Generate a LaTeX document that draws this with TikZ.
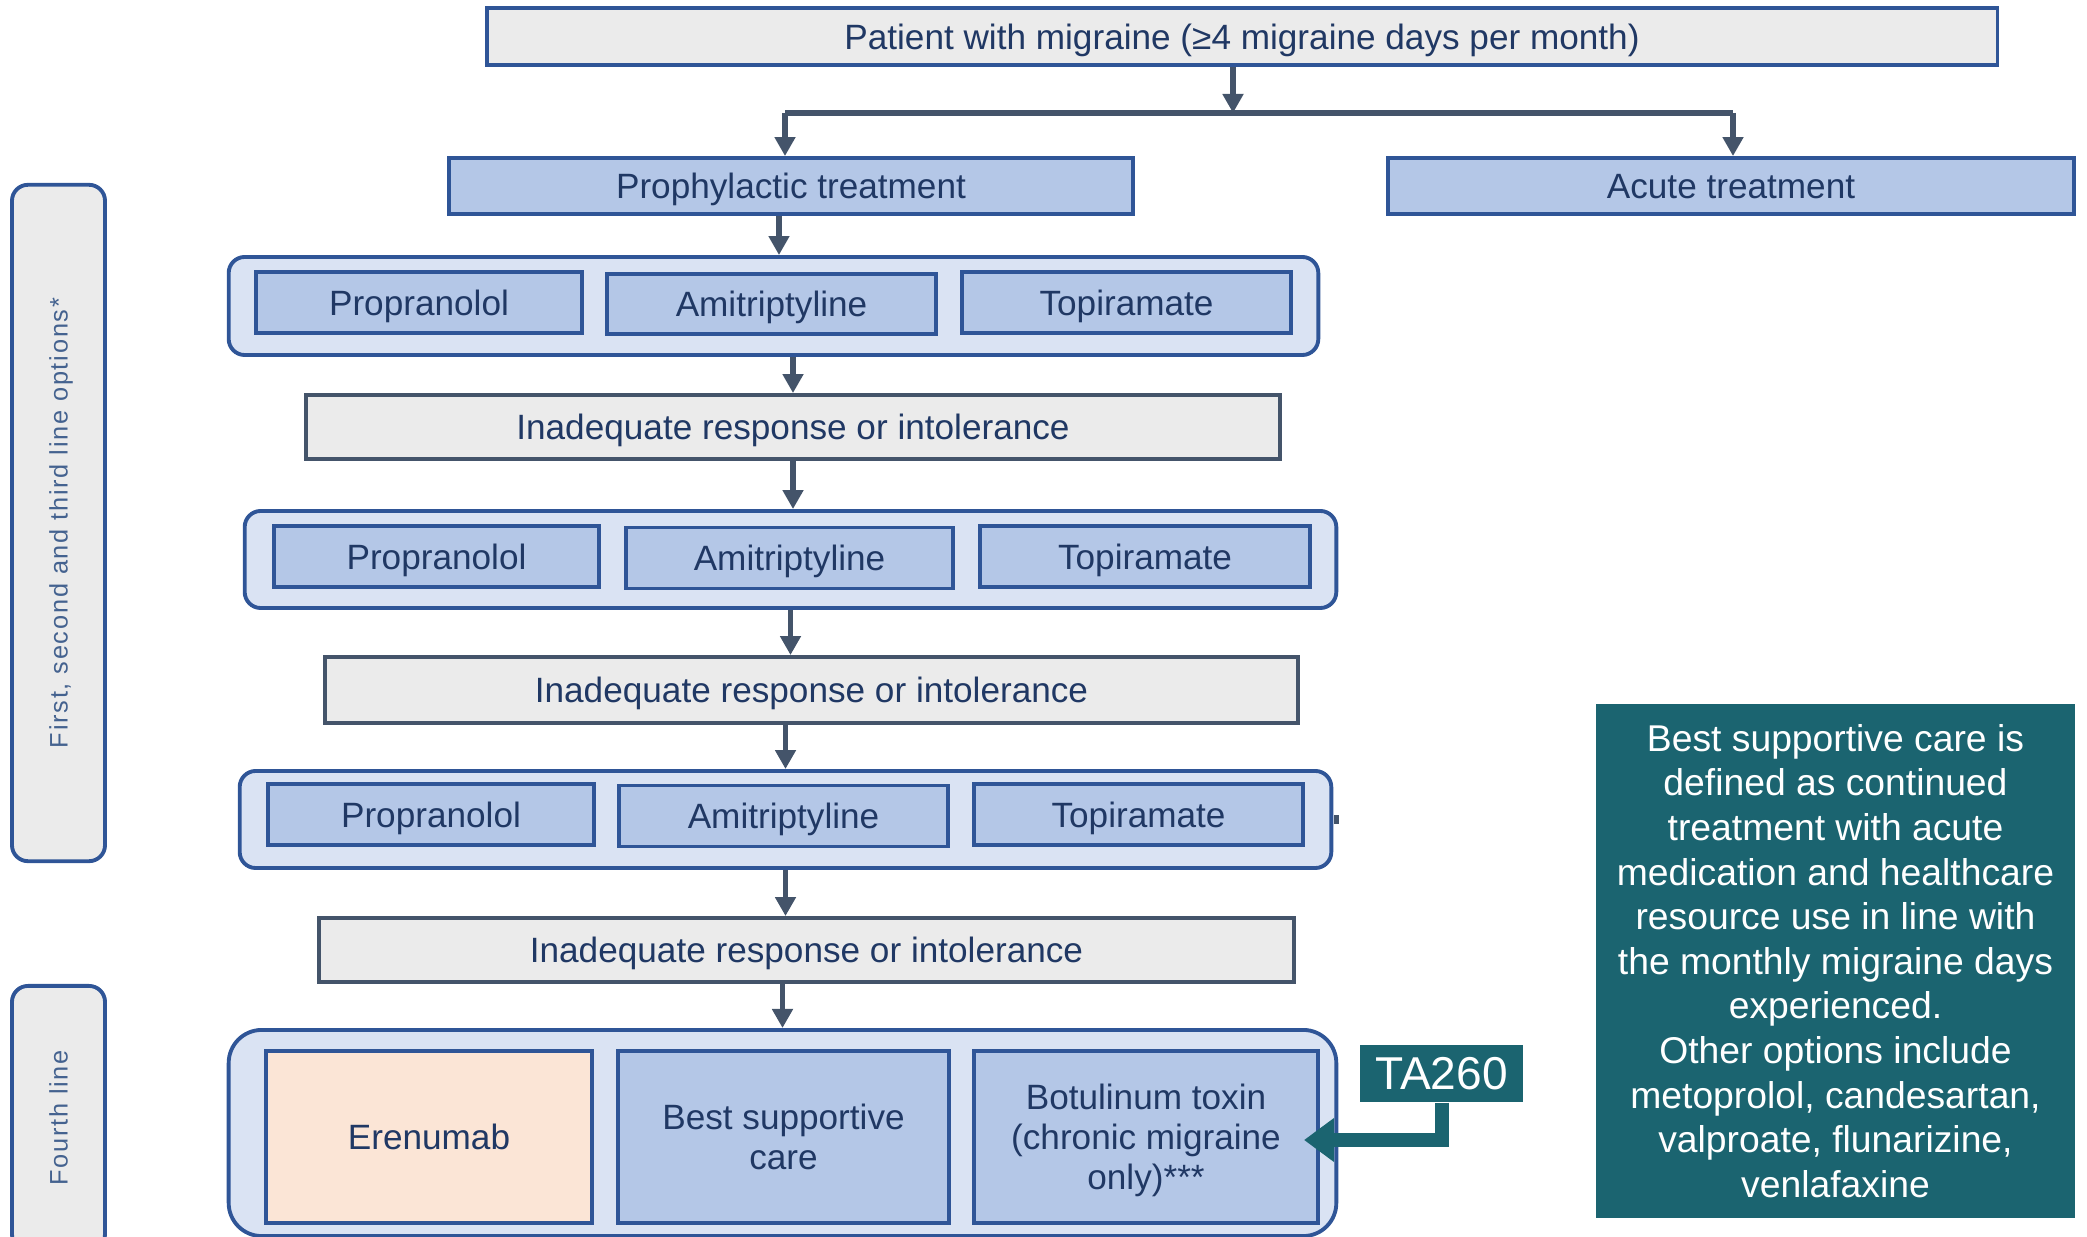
\documentclass[tikz,border=0pt]{standalone}
\usepackage{fontspec}
\setmainfont{Liberation Sans}
\newfontfamily\spacedfont[LetterSpace=7]{Liberation Sans}
\usetikzlibrary{arrows.meta}
\definecolor{gf}{HTML}{EBEBEB}
\definecolor{bb}{HTML}{2F5597}
\definecolor{lb}{HTML}{B4C7E7}
\definecolor{grp}{HTML}{DAE3F3}
\definecolor{ac}{HTML}{44546A}
\definecolor{tb}{HTML}{203864}
\definecolor{sidetext}{HTML}{44628F}
\definecolor{teal}{HTML}{1B6470}
\definecolor{peach}{HTML}{FBE5D6}
\begin{document}
\begin{tikzpicture}[x=0.01cm,y=-0.01cm,
  base/.style={line width=1.1pt, text=tb, inner sep=0pt, align=center, text depth=0pt, font=\fontsize{10}{12}\selectfont},
  bluebox/.style={base, draw=bb, fill=lb},
  graybox/.style={base, draw=bb, fill=gf},
  irbox/.style={base, draw=ac, fill=gf},
  grpbox/.style={base, draw=bb, fill=grp, rounded corners=0.16cm},
  sidebar/.style={base, draw=bb, fill=gf, rounded corners=0.16cm, rotate=90, text=sidetext, font=\spacedfont\fontsize{7.2}{9}\selectfont},
  arr/.style={draw=ac, line width=1.6pt, -{Triangle[width=0.2cm,length=0.19cm]}},
  plainline/.style={draw=ac, line width=1.6pt},
  tealbox/.style={fill=teal, text=white, inner sep=0pt, align=center}
]
\useasboundingbox (0,0) rectangle (2087,1237);

% top
\node[graybox, minimum width=15.10cm, minimum height=0.57cm] (top) at (1242,36.5) {Patient with migraine (≥4 migraine days per month)};
\node[bluebox, minimum width=6.84cm, minimum height=0.56cm] (proph) at (791,186) {Prophylactic treatment};
\node[bluebox, minimum width=6.86cm, minimum height=0.56cm] (acute) at (1731,186) {Acute treatment};
\coordinate (br) at (1233,113);
\coordinate (bl) at (785,113);
\coordinate (brr) at (1733,113);
\draw[arr] (top.south -| br) -- (br);
\draw[plainline] (bl) -- (brr);
\draw[arr] (bl) -- (bl |- proph.north);
\draw[arr] (brr) -- (brr |- acute.north);

% side bars
\node[sidebar, minimum width=6.76cm, minimum height=0.93cm] (side1) at (58.5,523) {First, second and third line options*};
\node[sidebar, minimum width=2.64cm, minimum height=0.93cm] (side2) at (58.5,1118) {Fourth line};

% group 1
\node[grpbox, minimum width=10.89cm, minimum height=0.98cm] (g1) at (773.5,306) {};
\node[bluebox, minimum width=3.26cm, minimum height=0.61cm] (p1) at (419,302.5) {Propranolol};
\node[bluebox, minimum width=3.29cm, minimum height=0.60cm] (a1) at (771.5,304) {Amitriptyline};
\node[bluebox, minimum width=3.29cm, minimum height=0.61cm] (t1) at (1126.5,302.5) {Topiramate};
\node[irbox, minimum width=9.74cm, minimum height=0.64cm] (ir1) at (793,427) {Inadequate response or intolerance};

% group 2
\node[grpbox, minimum width=10.91cm, minimum height=0.97cm] (g2) at (790.5,559.5) {};
\node[bluebox, minimum width=3.25cm, minimum height=0.61cm] (p2) at (436.5,556.5) {Propranolol};
\node[bluebox, minimum width=3.27cm, minimum height=0.61cm] (a2) at (789.5,558) {Amitriptyline};
\node[bluebox, minimum width=3.30cm, minimum height=0.61cm] (t2) at (1145,556.5) {Topiramate};
\node[irbox, minimum width=9.73cm, minimum height=0.66cm] (ir2) at (811.5,690) {Inadequate response or intolerance};

% group 3
\node[grpbox, minimum width=10.91cm, minimum height=0.97cm] (g3) at (785.5,819.5) {};
\node[bluebox, minimum width=3.26cm, minimum height=0.61cm] (p3) at (431,814.5) {Propranolol};
\node[bluebox, minimum width=3.29cm, minimum height=0.61cm] (a3) at (783.5,816) {Amitriptyline};
\node[bluebox, minimum width=3.29cm, minimum height=0.61cm] (t3) at (1138.5,814.5) {Topiramate};
\fill[ac] (1334,815) rectangle (1339,824);
\node[irbox, minimum width=9.75cm, minimum height=0.64cm] (ir3) at (806.5,950) {Inadequate response or intolerance};

% group 4
\node[grpbox, rounded corners=0.33cm, minimum width=11.07cm, minimum height=2.06cm] (g4) at (782.5,1133) {};
\node[base, draw=bb, fill=peach, minimum width=3.26cm, minimum height=1.72cm] (ere) at (429,1137) {Erenumab};
\node[bluebox, minimum width=3.31cm, minimum height=1.72cm, font=\fontsize{10}{11.4}\selectfont] (bsc) at (783.5,1137) {Best supportive\\care};
\node[bluebox, minimum width=3.44cm, minimum height=1.72cm, font=\fontsize{10}{11.4}\selectfont] (bot) at (1146,1137) {Botulinum toxin\\(chronic migraine\\only)***};

% arrows
\draw[arr] ([xshift=-0.12cm]proph.south) -- ([xshift=-0.12cm]proph.south |- g1.north);
\draw[arr] (g1.south -| ir1.north) -- (ir1.north);
\draw[arr] (ir1.south) -- (ir1.south |- g2.north);
\draw[arr] (g2.south) -- (g2.south |- ir2.north);
\draw[arr] (g3.north |- ir2.south) -- (g3.north);
\draw[arr] (g3.south) -- (g3.south |- ir3.north);
\draw[arr] (g4.north |- ir3.south) -- (g4.north);

% TA260
\node[tealbox, minimum width=1.63cm, minimum height=0.57cm, font=\fontsize{13.1}{15}\selectfont] (ta) at (1441.5,1073.5) {TA260};
\draw[teal, line width=0.14cm, line join=miter, shorten >=-0.16cm, -{Triangle[width=0.42cm,length=0.3cm]}] (ta.south) |- ([yshift=-0.03cm]bot.east);

% green box
\node[tealbox, minimum width=4.79cm, minimum height=5.14cm, font=\fontsize{10.6}{12.7}\selectfont] (bsctext) at (1835.5,961) {Best supportive care is\\defined as continued\\treatment with acute\\medication and healthcare\\resource use in line with\\the monthly migraine days\\experienced.\\Other options include\\metoprolol, candesartan,\\valproate, flunarizine,\\venlafaxine};
\end{tikzpicture}
\end{document}
